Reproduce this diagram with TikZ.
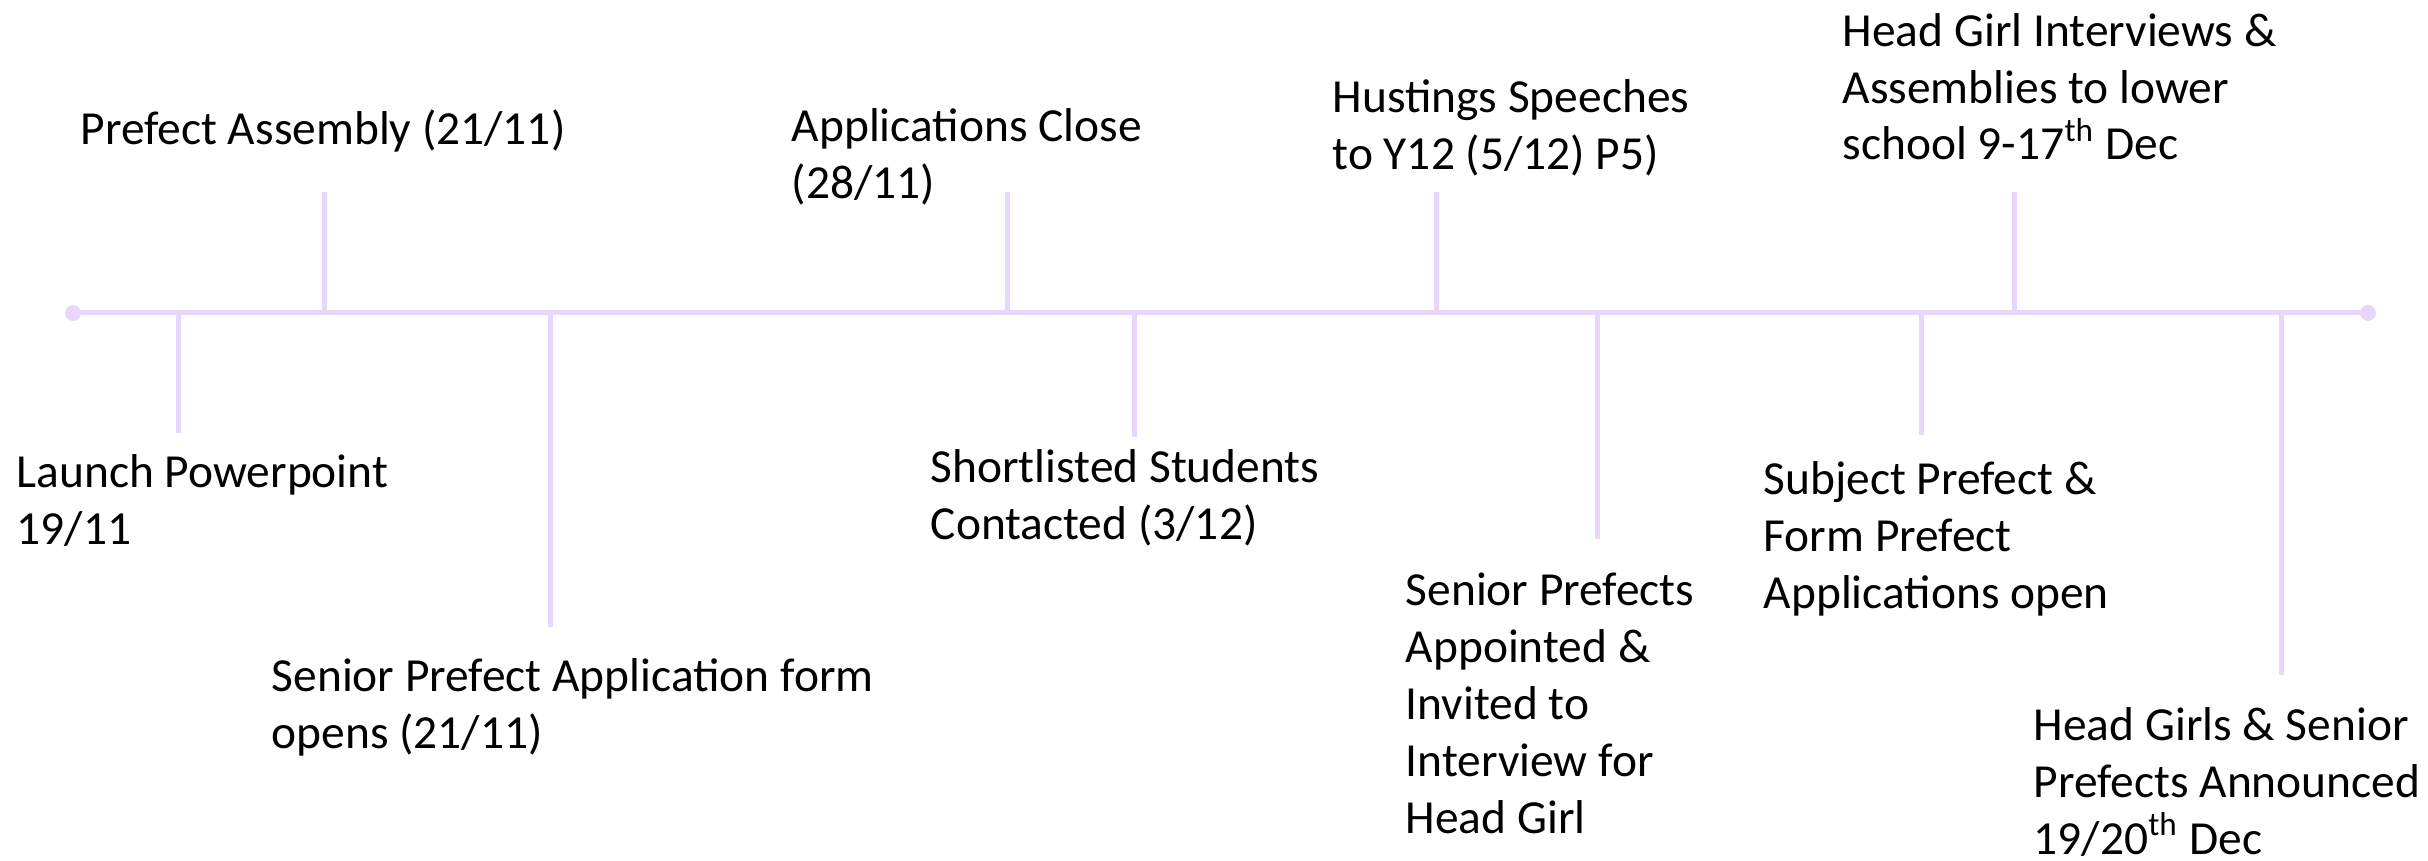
\documentclass[tikz,border=0pt]{standalone}
\usepackage{fontspec}
\setmainfont{Carlito}
\usepackage{tikz}
\definecolor{lilas}{RGB}{233,215,250}

\begin{document}
\begin{tikzpicture}[
    frise/.style={draw=lilas, line width=0.05cm},
    trait/.style={draw=lilas, line width=0.05cm},
    etiq/.style={anchor=base west, inner sep=0, align=left, font=\fontsize{13.5pt}{16.2pt}\selectfont}
  ]
\useasboundingbox (0,3.13) rectangle (24.28,-5.47);

%Frise
\coordinate (debut) at (0.73,0);
\coordinate (fin) at (23.68,0);
\draw[frise] (debut) -- (fin);
\fill[lilas] (debut) circle (0.08);
\fill[lilas] (fin) circle (0.08);

%Traits
\coordinate (p1) at (1.78,0);   \coordinate (p1e) at (1.78,-1.20);
\coordinate (p2) at (3.24,0);   \coordinate (p2e) at (3.24,1.21);
\coordinate (p3) at (5.50,0);   \coordinate (p3e) at (5.50,-3.14);
\coordinate (p4) at (10.07,0);  \coordinate (p4e) at (10.07,1.21);
\coordinate (p5) at (11.34,0);  \coordinate (p5e) at (11.34,-1.24);
\coordinate (p6) at (14.36,0);  \coordinate (p6e) at (14.36,1.21);
\coordinate (p7) at (15.97,0);  \coordinate (p7e) at (15.97,-2.26);
\coordinate (p8) at (20.14,0);  \coordinate (p8e) at (20.14,1.21);
\coordinate (p9) at (19.21,0);  \coordinate (p9e) at (19.21,-1.22);
\coordinate (p10) at (22.81,0); \coordinate (p10e) at (22.81,-3.62);
\draw[trait] (p1) -- (p1e);
\draw[trait] (p2) -- (p2e);
\draw[trait] (p3) -- (p3e);
\draw[trait] (p4) -- (p4e);
\draw[trait] (p5) -- (p5e);
\draw[trait] (p6) -- (p6e);
\draw[trait] (p7) -- (p7e);
\draw[trait] (p8) -- (p8e);
\draw[trait] (p9) -- (p9e);
\draw[trait] (p10) -- (p10e);

%Etapes (base = derniere ligne)
\node[etiq] (launch) at (0.16,-2.31) {Launch Powerpoint\\19/11};
\node[etiq] (assembly) at (0.80,1.68) {Prefect Assembly (21/11)};
\node[etiq] (formopen) at (2.71,-4.35) {Senior Prefect Application form\\opens (21/11)};
\node[etiq] (close) at (7.91,1.15) {Applications Close\\(28/11)};
\node[etiq] (shortlist) at (9.30,-2.26) {Shortlisted Students\\Contacted (3/12)};
\node[etiq] (hustings) at (13.32,1.44) {Hustings Speeches\\to Y12 (5/12) P5)};
\node[etiq] (appointed) at (14.05,-5.20) {Senior Prefects\\Appointed \&\\Invited to\\Interview for\\Head Girl};
\node[etiq] (interviews) at (18.42,1.53) {Head Girl Interviews \&\\Assemblies to lower\\school 9-17\textsuperscript{th} Dec};
\node[etiq] (subject) at (17.63,-2.95) {Subject Prefect \&\\Form Prefect\\Applications open};
\node[etiq] (announce) at (20.33,-5.41) {Head Girls \& Senior\\Prefects Announced\\19/20\textsuperscript{th} Dec};

\end{tikzpicture}
\end{document}
